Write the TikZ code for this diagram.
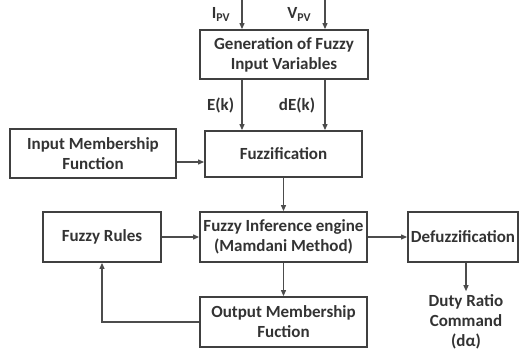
\documentclass[tikz,border=0pt]{standalone}
\usepackage{fontspec}
\setmainfont{Carlito}
\usetikzlibrary{arrows.meta}

\begin{document}
\begin{tikzpicture}[
		x = 1pt, y = -1pt,
		every node/.style = {font=\bfseries\fontsize{17}{20}\selectfont, text=black!80, align=center},
		blk/.style = {draw=black!75, line width=1.8pt, inner sep=0pt},
		flow/.style = {draw=black!70, line width=1.1pt, -{Triangle[length=6pt,width=5pt]}}
	]

	\useasboundingbox (0,0) rectangle (520,351);

	% blocks
	\node[blk, minimum width=168, minimum height=49] (gen) at (284,54.5) {Generation of Fuzzy\\Input Variables};
	\node[blk, minimum width=157, minimum height=46] (fuz) at (283.5,154) {Fuzzification};
	\node[blk, minimum width=166, minimum height=49] (imf) at (93,153.5) {Input Membership\\Function};
	\node[blk, minimum width=118, minimum height=50] (rul) at (102,237) {Fuzzy Rules};
	\node[blk, minimum width=167, minimum height=50] (inf) at (283.5,237) {Fuzzy Inference engine\\(Mamdani Method)};
	\node[blk, minimum width=110, minimum height=50] (def) at (463,237) {Defuzzification};
	\node[blk, minimum width=167, minimum height=50] (omf) at (283.5,322) {Output Membership\\Fuction};
	\node (out) at (466,322) {Duty Ratio\\Command\\(dα)};

	\coordinate (ipv) at (242,0);
	\coordinate (vpv) at (325,0);
	\coordinate (fb) at (102,322);

	% inputs
	\draw[flow] (ipv) -- (ipv |- gen.north) node[pos=0.5, left=8pt] {I\textsubscript{PV}};
	\draw[flow] (vpv) -- (vpv |- gen.north) node[pos=0.5, left=10pt] {V\textsubscript{PV}};
	\draw[flow] (ipv |- gen.south) -- (ipv |- fuz.north) node[pos=0.5, left=4pt] {E(k)};
	\draw[flow] (vpv |- gen.south) -- (vpv |- fuz.north) node[pos=0.5, left=6pt] {dE(k)};

	\draw[flow] (imf.east |- 0,162) -- (fuz.west |- 0,162);
	\draw[flow] (fuz.south) -- (inf.north);
	\draw[flow] (rul.east) -- (inf.west);
	\draw[flow] (inf.east) -- (def.west);
	\draw[flow] (inf.south) -- (omf.north);
	\draw[flow] (def.south -| out) -- (out.north);
	\draw[flow] (omf.west) -- (fb) -- (rul.south);

\end{tikzpicture}
\end{document}
